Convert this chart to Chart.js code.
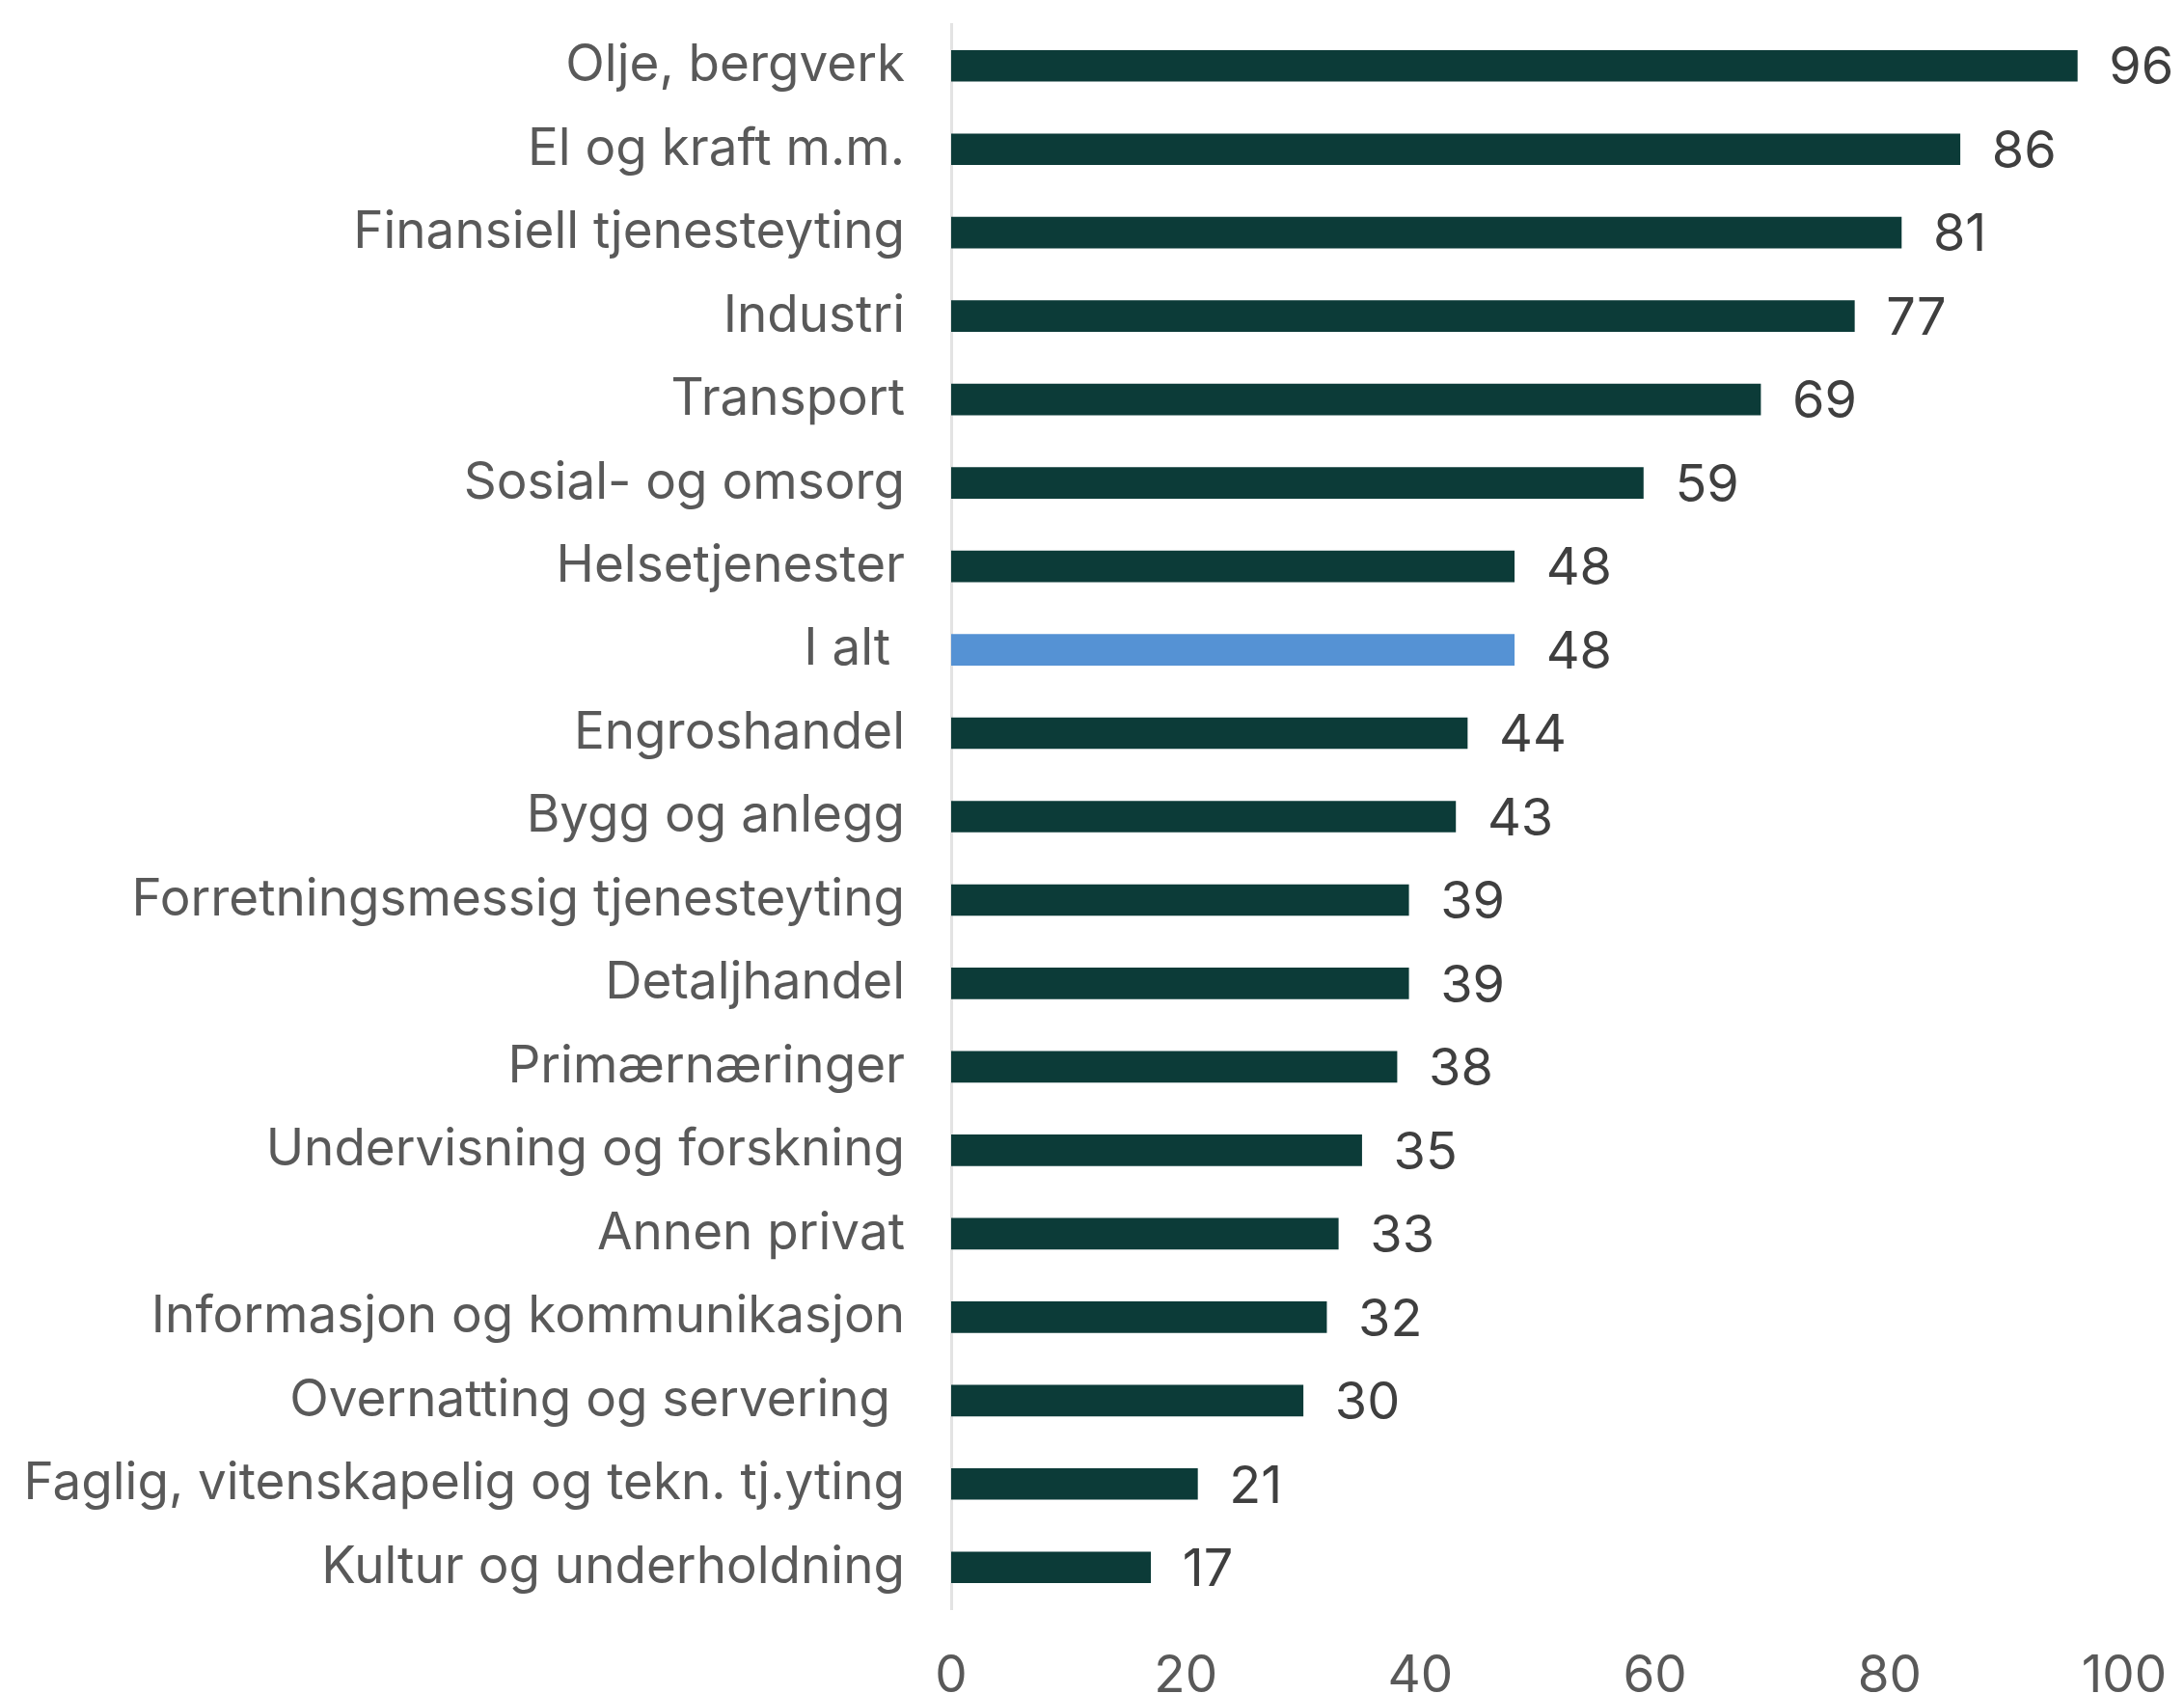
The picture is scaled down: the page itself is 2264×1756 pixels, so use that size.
<!DOCTYPE html>
<html>
<head>
<meta charset="utf-8">
<script src="https://cdn.jsdelivr.net/npm/chart.js@4"></script>
<style>
	html, body { margin:0; padding:0; background:#fff; }
	#wrap { position:relative; width:2264px; height:1756px; }
</style>
</head>
<body>
<div id="wrap"><canvas id="c"></canvas></div>
<script>
const categories = [
	'Olje, bergverk',
	'El og kraft m.m.',
	'Finansiell tjenesteyting',
	'Industri',
	'Transport',
	'Sosial- og omsorg',
	'Helsetjenester',
	'I alt ',
	'Engroshandel',
	'Bygg og anlegg',
	'Forretningsmessig tjenesteyting',
	'Detaljhandel',
	'Primærnæringer',
	'Undervisning og forskning',
	'Annen privat',
	'Informasjon og kommunikasjon',
	'Overnatting og servering ',
	'Faglig, vitenskapelig og tekn. tj.yting',
	'Kultur og underholdning'
]
const values = [96, 86, 81, 77, 69, 59, 48, 48, 44, 43, 39, 39, 38, 35, 33, 32, 30, 21, 17]
const xTicks = [0, 20, 40, 60, 80, 100]

const FONT = 'Inter, "Open Sans", sans-serif'
const barColors = categories.map(c => c.trim() === 'I alt' ? '#5592d4' : '#0c3b38')

// values at bar ends
const valueLabels = {
	id: 'valueLabels',
	afterDatasetsDraw(chart) {
		const ctx = chart.ctx
		const meta = chart.getDatasetMeta(0)
		ctx.save()
		ctx.font = '54px ' + FONT
		ctx.fillStyle = '#3f3f3f'
		ctx.textAlign = 'left'
		ctx.textBaseline = 'middle'
		meta.data.forEach((bar, i) => {
			ctx.fillText(String(values[i]), bar.x + 33, bar.y + 3)
		})
		ctx.restore()
	}
}

const b = document.getElementById('c')

new Chart(b, {
	type: 'bar',
	data: {
		labels: categories,
		datasets: [{
			data: values,
			backgroundColor: barColors,
			borderWidth: 0,
			barThickness: 32,
		}]
	},
	options: {
		indexAxis: 'y',
		responsive: true,
		maintainAspectRatio: false,
		animation: false,
		layout: { padding: { top: 25, right: 62, bottom: 0, left: 0 } },
		plugins: {
			legend: { display: false },
			tooltip: { enabled: false },
		},
		scales: {
			x: {
				min: 0,
				max: 100,
				afterBuildTicks: s => { s.ticks = xTicks.map(v => ({ value: v })) },
				afterFit: s => { s.height = 88; s.paddingLeft = 0; s.paddingRight = 0 },
				grid: { display: false, drawTicks: false },
				border: { display: false },
				ticks: {
					color: '#595959',
					font: { family: FONT, size: 53 },
					padding: 38,
				}
			},
			y: {
				afterFit: s => { s.width = 986; s.paddingTop = 0; s.paddingBottom = 0 },
				grid: { display: false, drawTicks: false },
				border: { display: true, color: '#e3e3e3', width: 3 },
				ticks: {
					color: '#595959',
					font: { family: FONT, size: 53 },
					padding: 48,
				}
			}
		}
	},
	plugins: [valueLabels]
})
</script>
</body>
</html>
